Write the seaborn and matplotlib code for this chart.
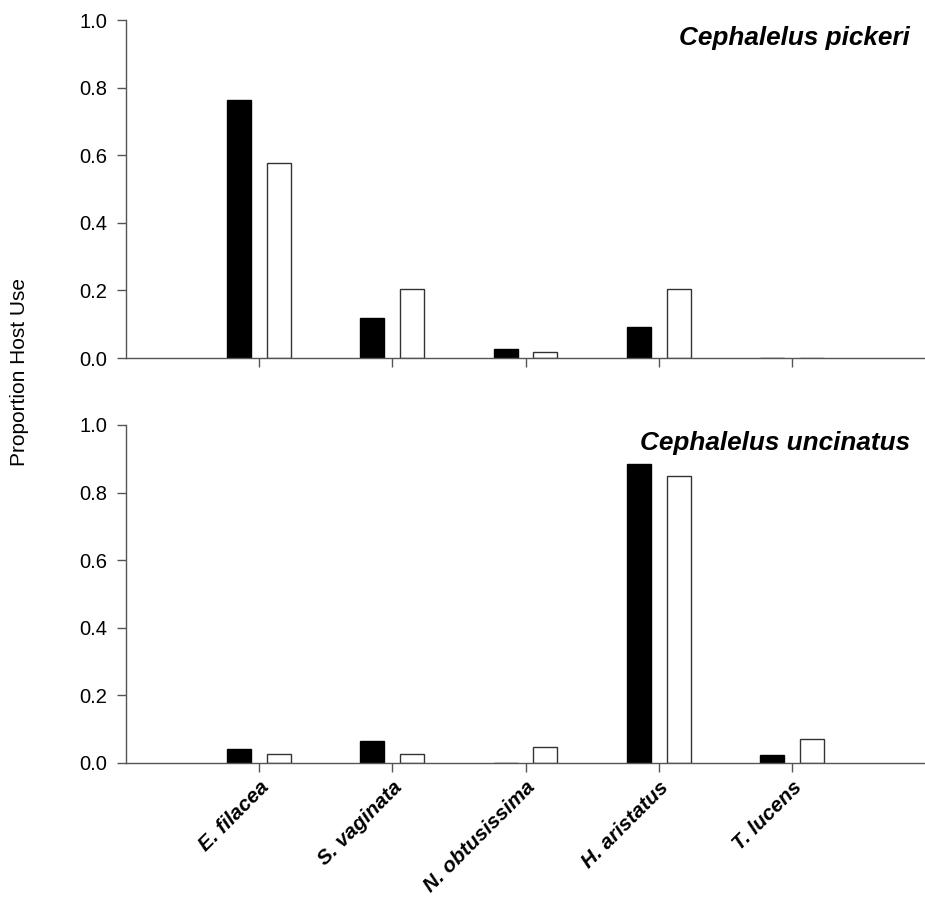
import matplotlib
matplotlib.use("Agg")
import matplotlib.pyplot as plt
import seaborn as sns
import pandas as pd

hosts = ["E. filacea", "S. vaginata", "N. obtusissima", "H. aristatus", "T. lucens"]
series = ["filled", "open"]
pickeri_filled = [0.763, 0.117, 0.026, 0.093, 0.0]
pickeri_open = [0.578, 0.204, 0.017, 0.204, 0.0]
uncinatus_filled = [0.041, 0.064, 0.0, 0.885, 0.024]
uncinatus_open = [0.027, 0.027, 0.048, 0.849, 0.070]
titles = ["Cephalelus pickeri", "Cephalelus uncinatus"]
yticks = [0.0, 0.2, 0.4, 0.6, 0.8, 1.0]
ylabel = "Proportion Host Use"


def frame(filled, opened):
    return pd.DataFrame({
        "host": hosts * 2,
        "series": [series[0]] * len(hosts) + [series[1]] * len(hosts),
        "value": list(filled) + list(opened),
    })


sns.set_style("white")
plt.rcParams["font.family"] = ["Liberation Sans", "DejaVu Sans"]
plt.rcParams["text.color"] = "black"
plt.rcParams["xtick.color"] = "black"
plt.rcParams["ytick.color"] = "black"

fig = plt.figure(figsize=(9.25, 9), dpi=100)
W, H = 925, 900
ax_top = fig.add_axes([126 / W, (H - 358) / H, 799 / W, 338 / H])
ax_bot = fig.add_axes([126 / W, (H - 763) / H, 799 / W, 338 / H])

spine_col = "#555555"
data = [(ax_top, frame(pickeri_filled, pickeri_open), titles[0], 38),
        (ax_bot, frame(uncinatus_filled, uncinatus_open), titles[1], 443)]

for ax, df, title, ty in data:
    sns.barplot(data=df, x="host", y="value", hue="series", order=hosts,
                hue_order=series, palette={"filled": "black", "open": "white"},
                width=0.6, gap=0.4, edgecolor="black", linewidth=1.0,
                legend=False, errorbar=None, ax=ax)
    for p in ax.patches:
        if p.get_facecolor()[0] > 0.5:
            p.set_edgecolor("#333333")
    ax.set_xlim(-1, 5)
    ax.set_ylim(0, 1.0)
    ax.set_yticks(yticks)
    ax.set_yticklabels([f"{v:.1f}" for v in yticks], fontsize=14.5,
                       color="black")
    ax.set_xlabel("")
    ax.set_ylabel("")
    for s in ["top", "right"]:
        ax.spines[s].set_visible(False)
    for s in ["left", "bottom"]:
        ax.spines[s].set_color(spine_col)
        ax.spines[s].set_linewidth(1.0)
    ax.tick_params(axis="both", direction="out", length=6.5, width=1.0,
                   color=spine_col, bottom=True, left=True)
    ax.tick_params(axis="y", pad=7)
    ax.text(910 / W, 1 - ty / H, title, transform=fig.transFigure,
            ha="right", va="center", fontsize=18.8, fontweight="bold",
            fontstyle="italic", color="black")

ax_top.set_xticklabels([])
ax_bot.set_xticks(range(len(hosts)))
ax_bot.set_xticklabels(hosts, rotation=45, ha="right", rotation_mode="anchor",
                       fontsize=15, fontweight="bold", fontstyle="italic",
                       color="black")
ax_bot.tick_params(axis="x", pad=4)

fig.text(20 / W, 1 - 372 / H, ylabel, rotation=90, ha="center", va="center",
         fontsize=15, color="black")

fig.savefig("out.png", dpi=100)
